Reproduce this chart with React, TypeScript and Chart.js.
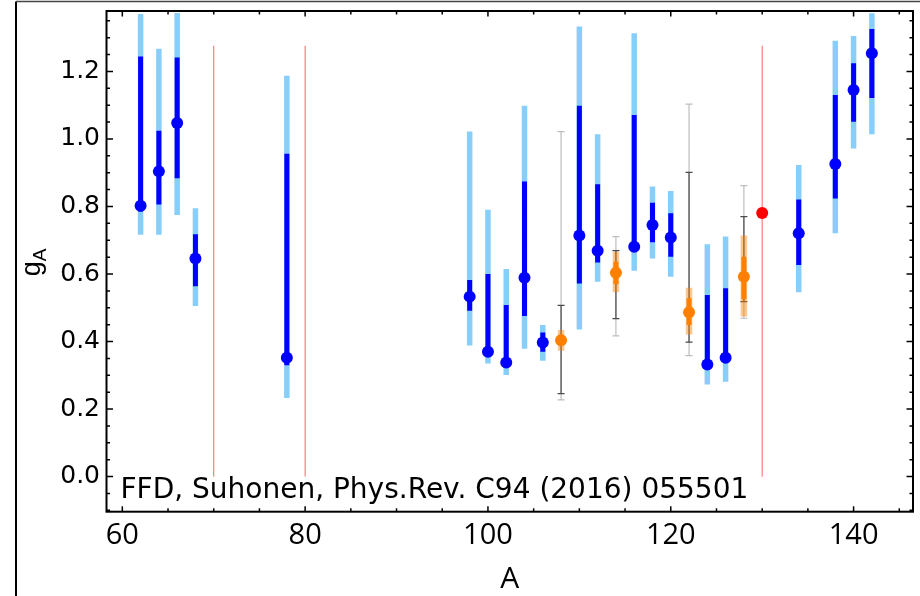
import React, { useEffect, useRef } from "react";
import { Chart, registerables } from "chart.js";

Chart.register(...registerables);

// ---- data ----
const blueA = [62, 64, 66, 68, 78, 98, 100, 102, 104, 106, 110, 112, 116, 118, 120, 124, 126, 134, 138, 140, 142];
const blueVal = [0.802, 0.904, 1.047, 0.646, 0.352, 0.533, 0.37, 0.338, 0.589, 0.397, 0.714, 0.669, 0.681, 0.745, 0.708, 0.332, 0.352, 0.721, 0.926, 1.145, 1.254];
const blueDarkLo = [0.785, 0.806, 0.884, 0.564, 0.33, 0.491, 0.36, 0.33, 0.476, 0.37, 0.572, 0.634, 0.665, 0.694, 0.651, 0.32, 0.34, 0.627, 0.824, 1.051, 1.121];
const blueDarkHi = [1.244, 1.024, 1.241, 0.718, 0.956, 0.582, 0.6, 0.508, 0.874, 0.427, 1.098, 0.866, 1.071, 0.811, 0.78, 0.538, 0.558, 0.821, 1.13, 1.224, 1.326];
const blueLightLo = [0.716, 0.716, 0.775, 0.505, 0.233, 0.388, 0.335, 0.301, 0.379, 0.343, 0.436, 0.577, 0.61, 0.646, 0.592, 0.273, 0.281, 0.546, 0.721, 0.972, 1.014];
const blueLightHi = [1.37, 1.267, 1.373, 0.795, 1.187, 1.022, 0.79, 0.615, 1.098, 0.449, 1.333, 1.014, 1.313, 0.859, 0.846, 0.688, 0.711, 0.923, 1.291, 1.305, 1.372];

const orangeA = [108, 114, 122, 128];
const orangeVal = [0.404, 0.604, 0.487, 0.592];
const orangeInnerLo = [0.39, 0.57, 0.449, 0.525];
const orangeInnerHi = [0.42, 0.636, 0.528, 0.651];
const orangeOuterLo = [0.373, 0.546, 0.421, 0.474];
const orangeOuterHi = [0.434, 0.666, 0.559, 0.714];
const grayInnerLo = [0.246, 0.468, 0.398, 0.518];
const grayInnerHi = [0.507, 0.669, 0.901, 0.77];
const grayOuterLo = [0.227, 0.417, 0.358, 0.469];
const grayOuterHi = [1.022, 0.711, 1.103, 0.862];

const redA = [130];
const redVal = [0.781];

const refLineA = [70, 80, 130];
const refLineBottom = [0, 0, 0];
const refLineTop = [1.276, 1.276, 1.276];

const xTicks = [60, 80, 100, 120, 140];
const yTicks = [0, 0.2, 0.4, 0.6, 0.8, 1.0, 1.2];
const xMinorStep = 5;
const yMinorStep = 0.05;
const xRange = [58.27, 146.5];
const yRange = [-0.104, 1.379];

const annotation = "FFD, Suhonen, Phys.Rev. C94 (2016) 055501";
const xTitle = "A";
const yTitleMain = "g";
const yTitleSub = "A";

// ---- helpers ----
function segs(xs: number[], lo: number[], hi: number[]) {
  const out: any[] = [];
  xs.forEach((x, i) => {
    out.push({ x, y: lo[i] }, { x, y: hi[i] }, { x, y: null });
  });
  return out;
}
function pts(xs: number[], ys: number[]) {
  return xs.map((x, i) => ({ x, y: ys[i] }));
}

const framePlugin = {
  id: "framePlugin",
  beforeDraw(chart: any) {
    const ctx = chart.ctx;
    ctx.save();
    ctx.fillStyle = "#ffffff";
    ctx.fillRect(0, 0, chart.width, chart.height);
    ctx.strokeStyle = "#000";
    ctx.lineWidth = 2;
    ctx.beginPath();
    ctx.moveTo(16, chart.height + 2);
    ctx.lineTo(16, 1.5);
    ctx.stroke();
    ctx.strokeStyle = "#444";
    ctx.lineWidth = 1.5;
    ctx.beginPath();
    ctx.moveTo(16, 1.5);
    ctx.lineTo(chart.width + 2, 1.5);
    ctx.stroke();
    ctx.restore();
  },
  afterDatasetsDraw(chart: any) {
    const ctx = chart.ctx;
    const a = chart.chartArea;
    const xs = chart.scales.x;
    const ys = chart.scales.y;
    ctx.save();
    // frame
    ctx.strokeStyle = "#000";
    ctx.lineWidth = 2;
    ctx.strokeRect(a.left, a.top, a.right - a.left, a.bottom - a.top);
    // ticks
    ctx.lineWidth = 1.5;
    ctx.beginPath();
    const x0 = Math.ceil(xRange[0] / xMinorStep) * xMinorStep;
    for (let v = x0; v <= xRange[1] + 1e-9; v += xMinorStep) {
      const major = xTicks.includes(v);
      const len = major ? 5.5 : 3.5;
      const p = xs.getPixelForValue(v);
      ctx.moveTo(p, a.bottom);
      ctx.lineTo(p, a.bottom - len);
      ctx.moveTo(p, a.top);
      ctx.lineTo(p, a.top + len);
    }
    const yStart = Math.ceil(yRange[0] / yMinorStep);
    const yEnd = Math.floor(yRange[1] / yMinorStep);
    for (let k = yStart; k <= yEnd; k++) {
      const v = k * yMinorStep;
      const major = yTicks.some((t) => Math.abs(t - v) < 1e-6);
      const len = major ? 6.5 : 3.5;
      const p = ys.getPixelForValue(v);
      ctx.moveTo(a.left, p);
      ctx.lineTo(a.left + len, p);
      ctx.moveTo(a.right, p);
      ctx.lineTo(a.right - len, p);
    }
    ctx.stroke();

    // annotation
    ctx.fillStyle = "#000";
    ctx.font = "28px 'DejaVu Sans'";
    ctx.textAlign = "left";
    ctx.textBaseline = "alphabetic";
    ctx.fillText(annotation, a.left + 14, a.bottom - 13.5);

    // x title
    ctx.font = "30px 'Open Sans'";
    ctx.textAlign = "center";
    ctx.fillText(xTitle, (a.left + a.right) / 2, 588);

    // y title
    ctx.translate(40, (a.top + a.bottom) / 2 + 1);
    ctx.rotate(-Math.PI / 2);
    ctx.font = "27px 'Liberation Sans'";
    const wg = ctx.measureText(yTitleMain).width;
    ctx.font = "19px 'Liberation Sans'";
    const wa = ctx.measureText(yTitleSub).width;
    const start = -(wg + wa) / 2;
    ctx.textAlign = "left";
    ctx.font = "27px 'Liberation Sans'";
    ctx.fillText(yTitleMain, start, 0);
    ctx.font = "19px 'Liberation Sans'";
    ctx.fillText(yTitleSub, start + wg, 6);
    ctx.restore();
  },
};

function segDataset(data: any[], color: string, width: number, order: number, extra: any = {}) {
  return {
    data,
    showLine: true,
    borderColor: color,
    backgroundColor: color,
    borderWidth: width,
    borderCapStyle: "butt",
    spanGaps: false,
    pointRadius: 0,
    pointHoverRadius: 0,
    order,
    ...extra,
  };
}

function pointDataset(data: any[], color: string, order: number) {
  return {
    data,
    showLine: false,
    pointRadius: 6,
    pointHoverRadius: 6,
    pointBackgroundColor: color,
    pointBorderWidth: 0,
    pointBorderColor: color,
    order,
  };
}

export default function App() {
  const ref = useRef<HTMLCanvasElement | null>(null);
  useEffect(() => {
    if (!ref.current) return;
    const capGray = (c: string) => ({
      pointStyle: "line",
      pointRadius: 3.5,
      pointHoverRadius: 3.5,
      pointBorderWidth: 1.2,
      pointBorderColor: c,
    });
    const chart = new Chart(ref.current, {
      type: "scatter",
      data: {
        datasets: [
          segDataset(segs(refLineA, refLineBottom, refLineTop), "rgba(255,60,60,0.8)", 1, 20),
          segDataset(segs(orangeA, grayOuterLo, grayOuterHi), "#bdbdbd", 1.2, 19, capGray("#bdbdbd")),
          segDataset(segs(orangeA, grayInnerLo, grayInnerHi), "#4a4a4a", 1.2, 18, capGray("#4a4a4a")),
          segDataset(segs(blueA, blueLightLo, blueLightHi), "#87CEFA", 5.5, 17),
          segDataset(segs(blueA, blueDarkLo, blueDarkHi), "#0000FF", 5, 16),
          segDataset(segs(orangeA, orangeOuterLo, orangeOuterHi), "rgba(255,128,0,0.45)", 6.5, 15),
          segDataset(segs(orangeA, orangeInnerLo, orangeInnerHi), "#FF8000", 5, 14),
          pointDataset(pts(blueA, blueVal), "#0000FF", 3),
          pointDataset(pts(orangeA, orangeVal), "#FF8000", 2),
          pointDataset(pts(redA, redVal), "#FF0000", 1),
        ] as any,
      },
      options: {
        animation: false,
        responsive: false,
        devicePixelRatio: 1,
        events: [],
        layout: { padding: { left: 0, right: 7, top: 11, bottom: 0 } },
        plugins: { legend: { display: false }, tooltip: { enabled: false } },
        scales: {
          x: {
            type: "linear",
            min: xRange[0],
            max: xRange[1],
            grid: { display: false, drawTicks: false },
            border: { display: false },
            afterBuildTicks: (s: any) => {
              s.ticks = xTicks.map((v) => ({ value: v }));
            },
            afterFit: (s: any) => {
              s.height = 84.3;
              s.paddingLeft = 0;
              s.paddingRight = 0;
            },
            ticks: {
              autoSkip: false,
              maxRotation: 0,
              color: "#000",
              padding: 7,
              font: { family: "'Open Sans'", size: 29, lineHeight: 1.2 },
              callback: (v: any) => String(v),
            },
          },
          y: {
            type: "linear",
            min: yRange[0],
            max: yRange[1],
            grid: { display: false, drawTicks: false },
            border: { display: false },
            afterBuildTicks: (s: any) => {
              s.ticks = yTicks.map((v) => ({ value: v }));
            },
            afterFit: (s: any) => {
              s.width = 106.5;
              s.paddingTop = 0;
              s.paddingBottom = 0;
            },
            ticks: {
              autoSkip: false,
              color: "#000",
              padding: 6.5,
              font: { family: "'DejaVu Sans'", size: 25 },
              callback: (v: any) => Number(v).toFixed(1),
            },
          },
        },
      } as any,
      plugins: [framePlugin],
    });
    return () => chart.destroy();
  }, []);
  return (
    <div style={{ position: "absolute", left: 0, top: 0, width: 920, height: 596, background: "#fff" }}>
      <canvas ref={ref} width={920} height={596} style={{ width: 920, height: 596, display: "block" }} />
    </div>
  );
}
